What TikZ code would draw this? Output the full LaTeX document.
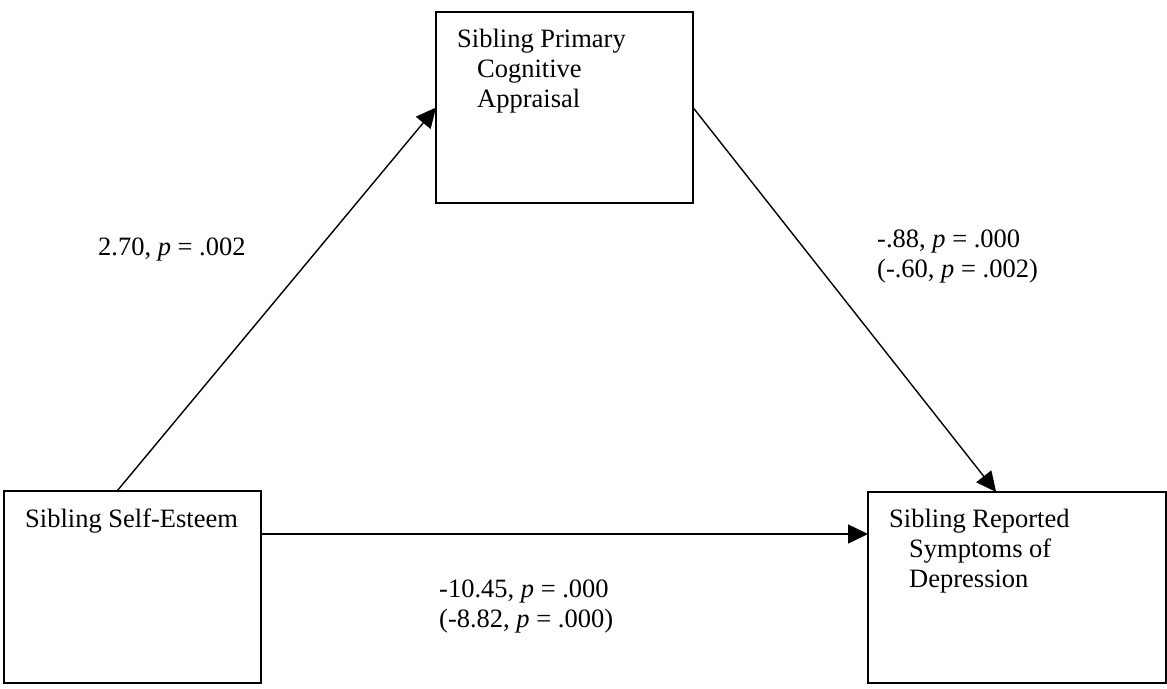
\documentclass[tikz,border=0pt]{standalone}
\usepackage{fontspec}
\setmainfont{Liberation Serif}
\usetikzlibrary{arrows.meta,calc}
\begin{document}
\begin{tikzpicture}[x=1pt,y=-1pt,
  box/.style={draw=black,line width=1.5pt,rectangle,inner sep=0pt,outer sep=0pt,anchor=north west},
  txt/.style={inner sep=0pt,anchor=base west,font=\fontsize{26.5}{30}\selectfont},
  conn/.style={draw=black,line width=1.4pt,-{Triangle[length=20pt,width=19pt]}}]
\useasboundingbox (0,0) rectangle (1167,688);
% boxes
\node[box,minimum width=257pt,minimum height=191pt] (T) at (436,12) {};
\node[box,minimum width=257pt,minimum height=192pt] (L) at (4,491) {};
\node[box,minimum width=298pt,minimum height=191pt] (R) at (868,492) {};
% box texts
\node[txt] (t1) at (457,47) {Sibling Primary};
\node[txt] (t2) at (477,77) {Cognitive};
\node[txt] (t3) at (477,107) {Appraisal};
\node[txt] (l1) at (25,527) {Sibling Self-Esteem};
\node[txt] (r1) at (889,527) {Sibling Reported};
\node[txt] (r2) at (909,557) {Symptoms of};
\node[txt] (r3) at (909,587) {Depression};
% connectors
\coordinate (Ltop) at ($(L.north west)!0.44!(L.north east)$);
\coordinate (Lright) at ($(L.north east)!0.224!(L.south east)$);
\coordinate (Rtop) at ($(R.north west)!0.43!(R.north east)$);
\coordinate (Rleft) at (R.west |- Lright);
\draw[conn] (Ltop) -- (T.west);
\draw[conn] (T.east) -- (Rtop);
\draw[conn] (Lright) -- (Rleft);
% path labels
\node[txt] (a1) at (98,255) {2.70, \textit{p} = .002};
\node[txt] (b1) at (877,247) {-.88, \textit{p} = .000};
\node[txt] (b2) at (877,277) {(-.60, \textit{p} = .002)};
\node[txt] (c1) at (439,597) {-10.45, \textit{p} = .000};
\node[txt] (c2) at (439,627) {(-8.82, \textit{p} = .000)};
\end{tikzpicture}
\end{document}
